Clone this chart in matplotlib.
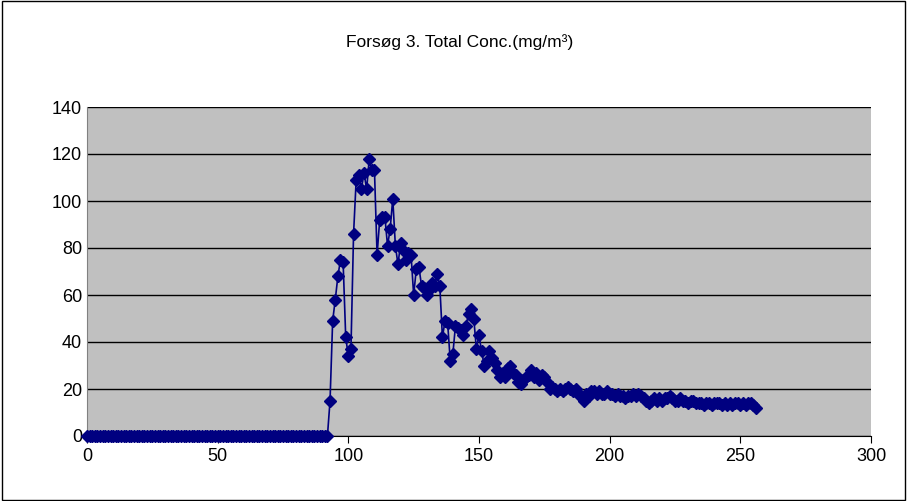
import numpy as np
import matplotlib.pyplot as plt

# measurement values, one per time step 0..256
zeros = [0.0] * 93
rise = [15, 49, 58, 68, 75, 74, 42, 34, 37, 86, 109, 111, 105, 112, 105, 118, 113, 113,
        77, 92, 93, 93, 81, 88, 101, 81, 73, 82, 79, 75, 78, 77, 60, 71, 72, 64, 63, 60,
        62, 65, 64, 69, 64, 42, 49, 48, 32, 35, 47, 46, 45, 43, 47, 52, 54, 50, 37, 43,
        36, 30, 32, 36, 33, 31, 28, 25, 27, 25, 29, 30, 27, 26, 23, 22, 24, 25, 26, 28,
        25, 27, 24, 26, 25, 23, 20, 21, 20, 19, 20, 19, 20, 21, 20, 19, 20, 18, 17, 15,
        18, 17, 19, 19, 18, 19, 18, 18, 19, 18, 18, 17, 18, 17, 17, 16, 17, 17, 18, 17,
        18, 17, 16, 15, 14, 15, 16, 15, 16, 15, 16, 16, 17, 16, 15, 15, 16, 15, 15, 14,
        15, 15, 14, 14, 14, 13, 14, 14, 13, 14, 14, 14, 13, 14, 13, 14, 13, 14, 14, 13,
        14, 13, 14, 14, 13, 12]
conc = np.array(zeros + rise, dtype=float)
t = np.arange(len(conc))

fig = plt.figure(figsize=(9.07, 5.01), dpi=100)
fig.patch.set_facecolor('white')
ax = fig.add_axes([87/907, 1-436/501, 784/907, 329/501])
ax.set_facecolor('#c0c0c0')
ax.plot(t, conc, color='#000080', linewidth=1.2, marker='D', markersize=6,
        markerfacecolor='#000080', markeredgecolor='#000080', zorder=3, clip_on=False)
ax.set_xlim(0, 300)
ax.set_ylim(0, 140)
ax.set_xticks(range(0, 301, 50))
ax.set_yticks(range(0, 141, 20))
ax.yaxis.grid(True, color='black', linewidth=1)
ax.set_axisbelow(True)
ax.tick_params(labelsize=13, length=5, direction='out')
ax.tick_params(axis='y', length=0)
for s in ['top', 'right']:
    ax.spines[s].set_visible(False)
ax.spines['left'].set_color('#808080')
ax.spines['bottom'].set_color('black')
for lab in ax.get_xticklabels() + ax.get_yticklabels():
    lab.set_family('Liberation Sans')
fig.text(460/907, 1-42/501, 'Forsøg 3. Total Conc.(mg/m³)', ha='center', va='center',
         fontsize=12.5, family='Liberation Sans')
fig.add_artist(plt.Rectangle((0.002, 0.002), 0.996, 0.996, transform=fig.transFigure,
                             fill=False, edgecolor='black', linewidth=1))
fig.savefig('out.png', dpi=100)
